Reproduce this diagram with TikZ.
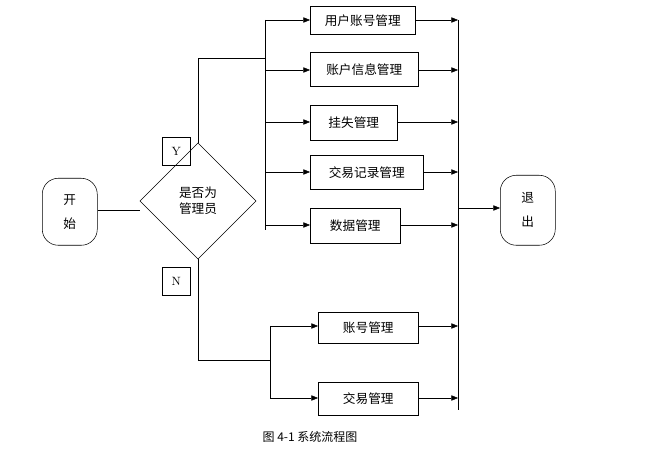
\documentclass[tikz,border=0pt]{standalone}
\usepackage{fontspec}
\newfontfamily\cjk{Noto Sans CJK SC}
\usetikzlibrary{arrows.meta,shapes.geometric}
\begin{document}
\begin{tikzpicture}[x=0.75pt,y=-0.75pt,
  every node/.style={font=\cjk\fontsize{9.5}{12}\selectfont},
  box/.style={draw,thin,rectangle,inner sep=0pt,anchor=north west},
  term/.style={draw,thin,rounded corners=12pt,inner sep=0pt,anchor=north west,align=center},
  ln/.style={draw,thin},
  arr/.style={draw,thin,-{Triangle[length=5pt,width=4pt]}}]
\useasboundingbox (0,0) rectangle (660,466);
\fill[white] (0,0) rectangle (660,466);
% terminals
\node[term,minimum width=41.25pt,minimum height=50.25pt] (start) at (42,178) {开\\[6pt]始};
\node[term,minimum width=41.25pt,minimum height=52.5pt] (exit) at (500,175) {退\\[6pt]出};
% decision
\node[draw,thin,diamond,aspect=1,minimum width=87pt,minimum height=87pt,inner sep=0pt,align=center] (dec) at (198,201) {是否为\\管理员};
\node[box,minimum width=21pt,minimum height=21pt,font=\rmfamily\small] (Y) at (162,137) {Y};
\node[box,minimum width=21pt,minimum height=21pt,font=\rmfamily\small] (N) at (162,267) {N};
% admin boxes
\node[box,minimum width=78.75pt,minimum height=21pt] (b1) at (310,6) {用户账号管理};
\node[box,minimum width=81pt,minimum height=25.5pt] (b2) at (310,52) {账户信息管理};
\node[box,minimum width=65.25pt,minimum height=26.25pt] (b3) at (310,105) {挂失管理};
\node[box,minimum width=84.75pt,minimum height=25.5pt] (b4) at (310,155) {交易记录管理};
\node[box,minimum width=67.5pt,minimum height=26.25pt] (b5) at (310,208) {数据管理};
% user boxes
\node[box,minimum width=75pt,minimum height=23.25pt] (c1) at (318,312) {账号管理};
\node[box,minimum width=75pt,minimum height=24.75pt] (c2) at (318,382) {交易管理};
% coordinates
\coordinate (L) at (265,20);
\coordinate (Lb) at (265,230);
\coordinate (R) at (458,20);
\coordinate (Rb) at (458,410);
\coordinate (U) at (270,326);
\coordinate (Ub) at (270,398);
% lines
\draw[ln] (start.east |- 0,210) -- (dec.west |- 0,210);
\draw[ln] (dec.north) |- (265,58);
\draw[ln] (L) -- (Lb);
\foreach \b/\y in {b1/20,b2/70,b3/122,b4/172,b5/225}{
  \draw[arr] (265,\y) -- (\b.west |- 0,\y);
  \draw[arr] (\b.east |- 0,\y) -- (458,\y);
}
\draw[ln] (R) -- (Rb);
\draw[arr] (458,208) -- (exit.west |- 0,208);
\draw[ln] (dec.south) |- (270,360);
\draw[ln] (U) -- (Ub);
\foreach \b/\y in {c1/326,c2/398}{
  \draw[arr] (270,\y) -- (\b.west |- 0,\y);
  \draw[arr] (\b.east |- 0,\y) -- (458,\y);
}
\node[font=\cjk\fontsize{9}{11}\selectfont] (cap) at (310,437) {图 4-1 系统流程图};
\end{tikzpicture}
\end{document}
